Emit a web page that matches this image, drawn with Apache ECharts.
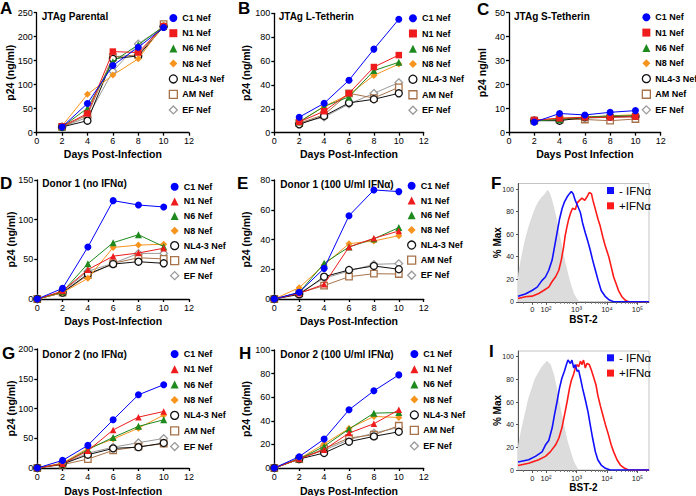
<!DOCTYPE html>
<html><head><meta charset="utf-8">
<script src="https://cdn.jsdelivr.net/npm/echarts@6/dist/echarts.min.js"></script>
<style>html,body{margin:0;padding:0;background:#fff}#c{width:696px;height:496px}</style>
</head><body><div id="c"></div>
<script>
// ---------------- DATA ----------------
const seriesNames = ['C1 Nef','N1 Nef','N6 Nef','N8 Nef','NL4-3 Nef','AM Nef','EF Nef'];
const daysJTAg  = [2,4,6,8,10];
const daysDonor = [0,2,4,6,8,10];

// rows follow seriesNames order
const panelA_parental = [
  [12,61,140,178,219],
  [13,40,169,167,222],
  [12,51,148,183,221],
  [14,80,120,154,224],
  [12,25,154,160,221],
  [12,37,158,162,226],
  [12,32,128,185,221]
];
const panelB_LTetherin = [
  [13,24.6,44,70,95],
  [9,18,33,55,65],
  [9,22,30,52,59],
  [9,22,32,48,57.5],
  [7,14,25,28,33],
  [8,15,33,29,38],
  [8,13,24,33,42]
];
const panelC_STetherin = [
  [4.4,8,7.4,8.5,9.2],
  [5.3,6,6.4,6.4,6.7],
  [5,5.5,6.5,7,7],
  [5,6,6.5,7,7.5],
  [5,5,6.4,6.7,7],
  [5,5.5,5.5,5,5.7],
  [5,6,6,6.5,6.5]
];
const panelD_donor1 = [
  [0,13.4,65.5,124,118.5,116],
  [0,10,37,54,58,64],
  [0,9,44.5,71,81,66],
  [0,8,26,65,68,69],
  [0,8,31.5,44,47,45],
  [0,8,30,45,52,50.5],
  [0,9,35,45,57.5,57.5]
];
const panelE_donor1IFN = [
  [0,4.5,20.6,56,73.3,72.2],
  [0,3.8,9.9,35,40.8,45.7],
  [0,4.3,24,35,40.4,48],
  [0,7.6,22.9,37.2,39,42.6],
  [0,3.1,15,19.5,22.2,20],
  [0,4,9,15,17,16.8],
  [0,4,14,18.8,23.3,23.8]
];
const panelG_donor2 = [
  [0,12.8,38,81,123,140],
  [0,7,29,64,85.5,95],
  [0,7,31,51.4,70,81],
  [0,8.4,33,48.6,67,89],
  [0,6.7,22.3,33,35,42],
  [0,5.6,15,29.6,36,40.8],
  [0,6.7,25,35,42.5,49.7]
];
const panelH_donor2IFN = [
  [0,9.6,24.5,49.3,65.4,78.9],
  [0,7.6,15.5,29.6,37.5,49.3],
  [0,7.6,18.3,33,46.5,47],
  [0,7.9,20.3,33.5,43.7,42.8],
  [0,7.6,12.7,22.3,26.8,30.7],
  [0,7.6,16.3,25.4,28.2,35.8],
  [0,8.5,15,24,29.6,34.4]
];

// Flow histograms: x = log10 display position (decades), y = % Max
const histNames = ['- IFNα','+IFNα'];
const histTickValues = [1.55,2,3,4,5];
const histTickLabels = ['0','10²','10³','10⁴','10⁵'];
const F_isotype = [[1.08,22],[1.2,40],[1.32,55],[1.43,66],[1.54,75],[1.65,83],[1.76,89],[1.87,93],[1.98,96],[2.05,99],[2.1,97],[2.16,93],[2.22,87],[2.31,77],[2.39,66],[2.47,55],[2.55,44],[2.63,34],[2.72,24],[2.81,15],[2.91,7],[3.02,2],[3.1,0]];
const F_minus = [[1.08,5],[1.32,7],[1.54,10],[1.71,13],[1.87,19],[1.98,22],[2.09,28],[2.2,37],[2.28,49],[2.36,61],[2.44,73],[2.53,83],[2.61,89],[2.69,93],[2.77,96],[2.83,98],[2.89,96],[2.96,90],[3.04,85],[3.13,79],[3.2,70],[3.29,61],[3.38,53],[3.45,46],[3.53,37],[3.62,28],[3.71,19],[3.81,10],[3.95,4.5],[4.08,1.5],[4.22,0],[5.38,0]];
const F_plus = [[1.08,3],[1.32,4.5],[1.54,5],[1.76,7.4],[1.92,10],[2.09,13],[2.2,18],[2.31,22],[2.42,28],[2.5,37],[2.58,49],[2.63,59],[2.69,67],[2.74,73],[2.81,79],[2.87,83],[2.96,82],[3.03,88],[3.1,90],[3.18,92],[3.27,90],[3.34,93],[3.42,97],[3.49,96],[3.54,90],[3.62,82],[3.71,73],[3.78,67],[3.86,58],[3.95,49],[4.06,40],[4.14,31],[4.22,22],[4.3,16],[4.38,10],[4.49,4.5],[4.6,1.5],[4.71,0],[5.38,0]];
const I_isotype = [[1.08,20],[1.21,37],[1.43,63],[1.65,81],[1.87,91],[2.03,96],[2.14,93],[2.25,84],[2.36,70],[2.47,54],[2.58,40],[2.69,26],[2.8,16],[2.91,7],[3.02,1.5],[3.07,0]];
const I_minus = [[1.08,7],[1.43,9],[1.65,12],[1.87,16],[1.98,22],[2.09,26],[2.2,37],[2.28,49],[2.36,60],[2.44,72],[2.52,81],[2.6,87],[2.67,93],[2.72,97],[2.8,94],[2.85,97],[2.91,90],[2.96,93],[3.02,87],[3.07,88],[3.13,81],[3.2,72],[3.29,62],[3.38,51],[3.45,40],[3.53,28],[3.62,16],[3.7,9],[3.81,4.4],[3.95,1.5],[4.11,0],[5.38,0]];
const I_plus = [[1.08,4],[1.43,6],[1.76,9],[1.98,12],[2.14,16],[2.31,22],[2.42,28],[2.52,37],[2.61,49],[2.69,60],[2.77,72],[2.83,79],[2.91,85],[2.96,90],[3.02,93],[3.07,91],[3.13,96],[3.18,93],[3.23,97],[3.29,90],[3.34,94],[3.42,93],[3.49,88],[3.56,82],[3.64,75],[3.7,66],[3.78,57],[3.86,49],[3.95,40],[4.05,31],[4.14,22],[4.22,16],[4.33,9],[4.44,4.4],[4.58,1.5],[4.71,0],[5.38,0]];

// ---------------- STYLE / LAYOUT ----------------
const FONT = "'Liberation Sans', Arial, Helvetica, sans-serif";
const styles = [
  {symbol:'circle',   size:7,   color:'#0000ff', fill:'#0000ff', open:false},
  {symbol:'rect',     size:6.5, color:'#ee1c1c', fill:'#ee1c1c', open:false},
  {symbol:'triangle', size:7,   color:'#1e8a1e', fill:'#1e8a1e', open:false},
  {symbol:'diamond',  size:7,   color:'#f7941d', fill:'#f7941d', open:false},
  {symbol:'circle',   size:7,   color:'#111111', fill:'#ffffff', open:true},
  {symbol:'rect',     size:6.5, color:'#a8734a', fill:'#ffffff', open:true},
  {symbol:'diamond',  size:7.5, color:'#9a9a9a', fill:'#ffffff', open:true}
];

const grids=[], xAxes=[], yAxes=[], series=[], legends=[], graphics=[];

function addText(x, y, str, size, weight){
  graphics.push({type:'text', x:x, y:y, silent:true,
    style:{text:str, font: weight+' '+size+'px '+FONT, fill:'#000', align:'left', verticalAlign:'middle'}});
}
const nameStyle = {fontFamily:FONT, fontWeight:'bold', fontSize:10.5, color:'#000'};
const axisLineStyle = {color:'#000', width:1.3};

function linePanel(p){
  const gi = grids.length;
  const xi = xAxes.length;
  const yi = yAxes.length;
  grids.push({left:p.left, top:p.top, width:p.width, height:p.height, containLabel:false, outerBoundsMode:'none'});
  xAxes.push({gridIndex:gi, type:'value', min:0, max:12, interval:2,
    name:p.xName, nameLocation:'middle', nameGap:p.xGap, nameMoveOverlap:false, nameTextStyle:nameStyle,
    axisLine:{show:true, onZero:false, lineStyle:axisLineStyle},
    axisTick:{show:true, length:3, lineStyle:axisLineStyle},
    axisLabel:{fontFamily:FONT, fontSize:9, color:'#000', margin:4},
    splitLine:{show:false}});
  yAxes.push({gridIndex:gi, type:'value', min:0, max:p.yMax, interval:p.yStep,
    name:p.yName, nameLocation:'middle', nameGap:p.yGap, nameMoveOverlap:false, nameTextStyle:nameStyle,
    axisLine:{show:true, onZero:false, lineStyle:axisLineStyle},
    axisTick:{show:true, length:3, lineStyle:axisLineStyle},
    axisLabel:{fontFamily:FONT, fontSize:9, color:'#000', margin:4},
    splitLine:{show:false}});
  p.values.forEach(function(vals, k){
    const st = styles[k];
    const sym = (k===1) ? p.n1Symbol : st.symbol;
    series.push({type:'line', name:seriesNames[k], xAxisIndex:xi, yAxisIndex:yi,
      data:p.days.map(function(d,i){return [d, vals[i]];}),
      symbol:sym, symbolSize:st.size, showSymbol:true, clip:false, z:10-k,
      itemStyle:{color:st.fill, borderColor:st.color, borderWidth:st.open?1.3:0},
      lineStyle:{color:st.color, width:1},
      emphasis:{disabled:true}, animation:false});
  });
  legends.push({left:p.legLeft, top:p.legTop, orient:'vertical', itemWidth:8, itemHeight:8,
    itemGap:p.legGap, itemTextGap:4, selectedMode:false, padding:0,
    textStyle:{fontFamily:FONT, fontSize:9, fontWeight:'bold', color:'#000', lineHeight:9},
    data:seriesNames.map(function(n,k){
      const st = styles[k];
      const ic = (k===1) ? p.n1Symbol : st.symbol;
      return {name:n, icon:ic, itemStyle:{color:st.fill, borderColor:st.color, borderWidth:st.open?1.3:0}};
    })});
  addText(p.titleX, p.titleY, p.title, 10, 'bold');
  addText(p.letterX, p.letterY, p.letter, 17, 'bold');
}

function histPanel(p){
  const gi = grids.length;
  const xi = xAxes.length;
  const yi = yAxes.length;
  grids.push({left:518, top:p.top, width:131, height:p.height, show:true, borderColor:'#c4c4c4', borderWidth:1,
    backgroundColor:'rgba(0,0,0,0)', containLabel:false, outerBoundsMode:'none'});
  const minor = [];
  [2,3,4].forEach(function(dec){ for (let m=2;m<=9;m++) minor.push(dec+Math.log10(m)); });
  minor.push(5+Math.log10(2));
  minor.push(1.25, 1.7, 1.85);
  xAxes.push({gridIndex:gi, type:'value', min:1.08, max:5.38, position:'bottom',
    name:'BST-2', nameLocation:'middle', nameGap:p.xGap, nameMoveOverlap:false, nameTextStyle:Object.assign({}, nameStyle, {fontSize:10}),
    axisLine:{show:true, onZero:false, lineStyle:{color:'#555', width:1}},
    axisTick:{show:true, length:3, customValues:histTickValues, lineStyle:{color:'#555'}},
    axisLabel:{show:true, customValues:histTickValues, fontFamily:FONT, fontSize:7.5, color:'#222', margin:4,
      formatter:function(v){ const i = histTickValues.findIndex(function(t){return Math.abs(t-v)<1e-6;}); return i>=0 ? histTickLabels[i] : ''; }},
    splitLine:{show:false}});
  xAxes.push({gridIndex:gi, type:'value', min:1.08, max:5.38, position:'bottom',
    axisLine:{show:false, onZero:false}, axisTick:{show:true, length:2, customValues:minor, lineStyle:{color:'#777'}},
    axisLabel:{show:false}, splitLine:{show:false}});
  const yTicks = [0,20,40,60,80,100];
  yAxes.push({gridIndex:gi, type:'value', min:0, max:105,
    name:'% Max', nameLocation:'middle', nameGap:p.yGap, nameMoveOverlap:false, nameTextStyle:Object.assign({}, nameStyle, {fontSize:10}),
    axisLine:{show:true, onZero:false, lineStyle:{color:'#555', width:1}},
    axisTick:{show:true, length:2, customValues:yTicks, lineStyle:{color:'#555'}},
    axisLabel:{show:true, customValues:yTicks, fontFamily:FONT, fontSize:7, color:'#222', margin:4},
    splitLine:{show:false}});
  series.push({type:'line', name:'isotype', xAxisIndex:xi, yAxisIndex:yi, data:p.iso, symbol:'none', clip:true,
    lineStyle:{width:0.6, color:'#d4d4d4'}, areaStyle:{color:'#dcdcdc', opacity:1}, z:1, emphasis:{disabled:true}, animation:false});
  series.push({type:'line', name:histNames[1], xAxisIndex:xi, yAxisIndex:yi, data:p.plus, symbol:'none', clip:true,
    itemStyle:{color:'#ff1a1a'}, lineStyle:{width:1.6, color:'#ff1a1a'}, z:3, emphasis:{disabled:true}, animation:false});
  series.push({type:'line', name:histNames[0], xAxisIndex:xi, yAxisIndex:yi, data:p.minus, symbol:'none', clip:true,
    itemStyle:{color:'#1010ff'}, lineStyle:{width:1.6, color:'#1010ff'}, z:4, emphasis:{disabled:true}, animation:false});
  legends.push({left:607, top:p.legTop, orient:'vertical', itemWidth:7, itemHeight:7, itemGap:3.3, itemTextGap:2.5,
    selectedMode:false, padding:0,
    textStyle:{fontFamily:FONT, fontSize:11.5, color:'#000', lineHeight:11},
    data:[{name:histNames[0], icon:'rect', itemStyle:{color:'#1010ff', borderWidth:0}},
          {name:histNames[1], icon:'rect', itemStyle:{color:'#ff1a1a', borderWidth:0}}]});
  addText(p.letterX, p.letterY, p.letter, 17, 'bold');
}

const xTitle = 'Days Post-Infection';
const yTitle = 'p24 (ng/ml)';

linePanel({left:36.7, top:12.7, width:152.3, height:120, yMax:250, yStep:50, yName:yTitle, yGap:21.5, xName:xTitle, xGap:16,
  days:daysJTAg, values:panelA_parental, n1Symbol:'rect', legLeft:168.7, legTop:13.5, legGap:6.2,
  title:'JTAg Parental', titleX:41.7, titleY:16.7, letter:'A', letterX:0, letterY:8});
linePanel({left:274.3, top:13.3, width:149.4, height:119.4, yMax:100, yStep:20, yName:yTitle, yGap:22.5, xName:xTitle, xGap:16,
  days:daysJTAg, values:panelB_LTetherin, n1Symbol:'rect', legLeft:408.3, legTop:13.8, legGap:6.2,
  title:'JTAg L-Tetherin', titleX:278.7, titleY:16.7, letter:'B', letterX:238, letterY:8.5});
linePanel({left:509, top:12.7, width:151.7, height:120, yMax:50, yStep:10, yName:'p24 ng/ml', yGap:22, xName:'Days Post Infection', xGap:16,
  days:daysJTAg, values:panelC_STetherin, n1Symbol:'rect', legLeft:641.7, legTop:12.8, legGap:6.3,
  title:'JTAg S-Tetherin', titleX:514, titleY:16.7, letter:'C', letterX:477, letterY:9});
linePanel({left:37.3, top:180, width:151.7, height:119, yMax:150, yStep:50, yName:yTitle, yGap:20.8, xName:xTitle, xGap:16,
  days:daysDonor, values:panelD_donor1, n1Symbol:'triangle', legLeft:170, legTop:182.2, legGap:5.7,
  title:'Donor 1 (no IFNα)', titleX:42.3, titleY:183.3, letter:'D', letterX:0, letterY:183});
linePanel({left:274.3, top:180, width:149.4, height:119, yMax:80, yStep:20, yName:yTitle, yGap:23, xName:xTitle, xGap:16,
  days:daysDonor, values:panelE_donor1IFN, n1Symbol:'triangle', legLeft:407, legTop:181.2, legGap:5.8,
  title:'Donor 1 (100 U/ml IFNα)', titleX:280.3, titleY:184, letter:'E', letterX:237, letterY:183});
linePanel({left:37.3, top:349, width:151.7, height:119, yMax:200, yStep:50, yName:yTitle, yGap:20.8, xName:xTitle, xGap:17,
  days:daysDonor, values:panelG_donor2, n1Symbol:'triangle', legLeft:170, legTop:349.5, legGap:6.3,
  title:'Donor 2 (no IFNα)', titleX:42.3, titleY:354, letter:'G', letterX:2, letterY:353});
linePanel({left:274.3, top:350, width:149.4, height:118, yMax:100, yStep:20, yName:yTitle, yGap:22.5, xName:xTitle, xGap:17,
  days:daysDonor, values:panelH_donor2IFN, n1Symbol:'triangle', legLeft:409.7, legTop:349.5, legGap:6.2,
  title:'Donor 2 (100 U/ml IFNα)', titleX:280.3, titleY:354, letter:'H', letterX:239, letterY:353});

histPanel({top:183.5, height:118.3, iso:F_isotype, minus:F_minus, plus:F_plus, xGap:13, yGap:15.5, legTop:184.5,
  letter:'F', letterX:491, letterY:183});
histPanel({top:351, height:119, iso:I_isotype, minus:I_minus, plus:I_plus, xGap:12, yGap:15.5, legTop:351.8,
  letter:'I', letterX:489, letterY:351});

const chart = echarts.init(document.getElementById('c'), null, {renderer:'svg', width:696, height:496});
chart.setOption({
  backgroundColor:'#ffffff',
  animation:false,
  tooltip:{show:false},
  grid:grids, xAxis:xAxes, yAxis:yAxes, series:series, legend:legends, graphic:graphics
});
</script>
</body></html>
